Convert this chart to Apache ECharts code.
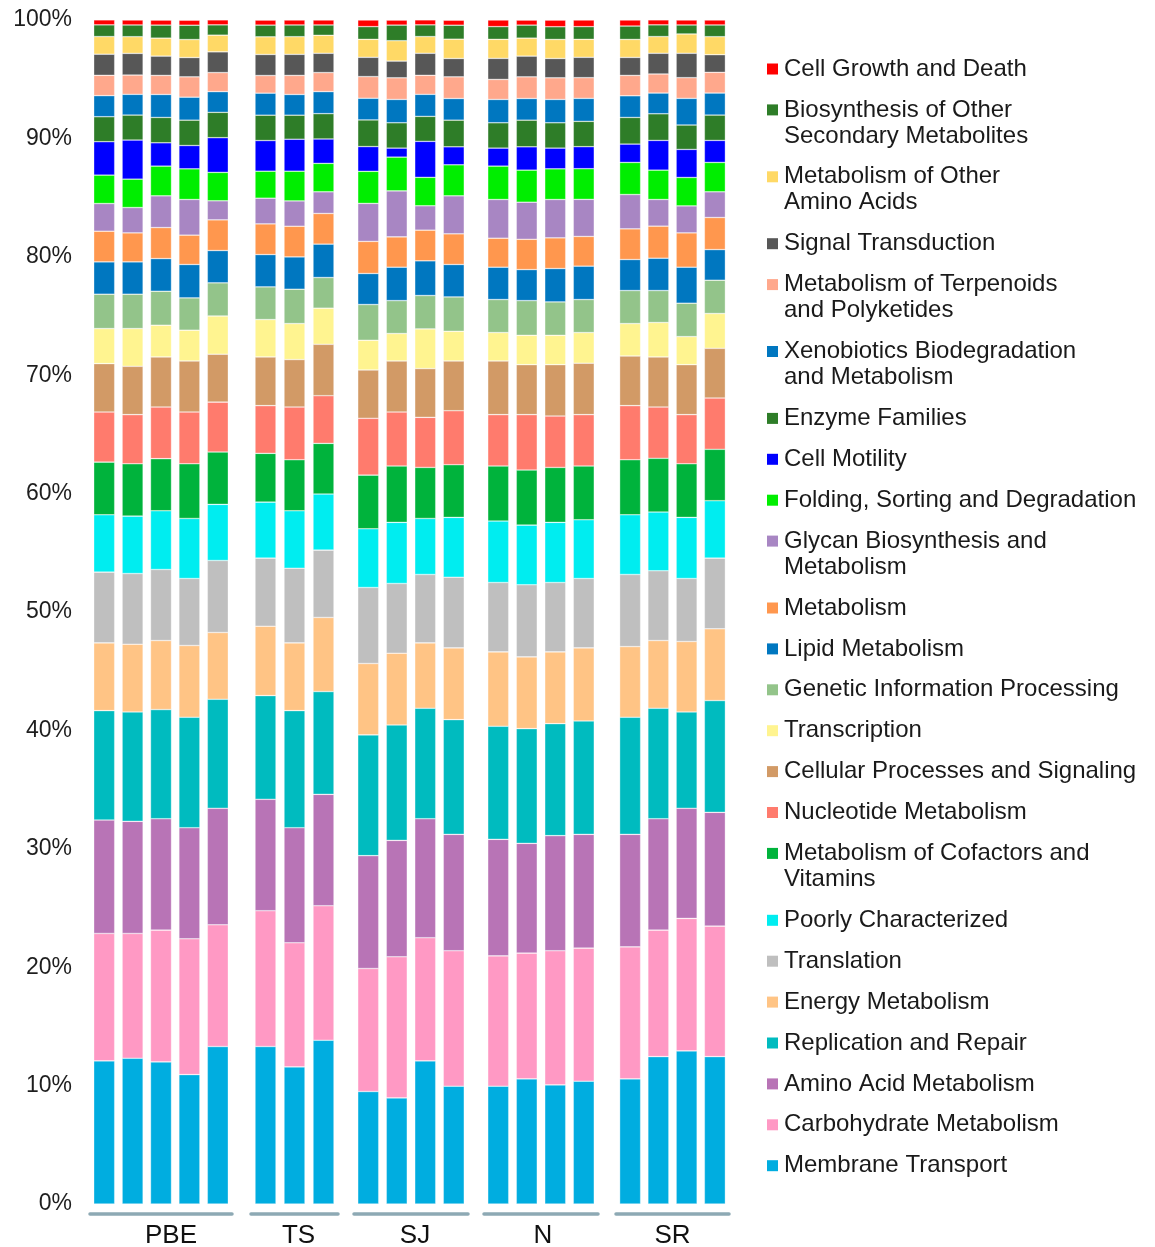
<!DOCTYPE html>
<html>
<head>
<meta charset="utf-8">
<script src="https://cdn.jsdelivr.net/npm/echarts@6/dist/echarts.min.js"></script>
<style>
  html, body { margin: 0; padding: 0; background: #fff; }
  #chart { width: 1155px; height: 1247px; }
</style>
</head>
<body>
<div id="chart"></div>
<script>
// sample groups, left to right
const groups = ["PBE", "TS", "SJ", "N", "SR"];
const groupSizes = [5, 3, 4, 4, 4];
const sampleLabels = [
  "PBE1", "PBE2", "PBE3", "PBE4", "PBE5",
  "TS1", "TS2", "TS3",
  "SJ1", "SJ2", "SJ3", "SJ4",
  "N1", "N2", "N3", "N4",
  "SR1", "SR2", "SR3", "SR4",
];

// KEGG categories, stacked bottom -> top
const categories = [
  "Membrane Transport",
  "Carbohydrate Metabolism",
  "Amino Acid Metabolism",
  "Replication and Repair",
  "Energy Metabolism",
  "Translation",
  "Poorly Characterized",
  "Metabolism of Cofactors and\nVitamins",
  "Nucleotide Metabolism",
  "Cellular Processes and Signaling",
  "Transcription",
  "Genetic Information Processing",
  "Lipid Metabolism",
  "Metabolism",
  "Glycan Biosynthesis and\nMetabolism",
  "Folding, Sorting and Degradation",
  "Cell Motility",
  "Enzyme Families",
  "Xenobiotics Biodegradation\nand Metabolism",
  "Metabolism of Terpenoids\nand Polyketides",
  "Signal Transduction",
  "Metabolism of Other\nAmino Acids",
  "Biosynthesis of Other\nSecondary Metabolites",
  "Cell Growth and Death",
];

// relative abundance (%) per sample
const membraneTransport = [12.09, 12.31, 12.00, 10.93, 13.30, 13.30, 11.58, 13.83, 9.50, 8.96, 12.09, 9.95, 9.95, 10.57, 10.06, 10.37, 10.57, 12.45, 12.93, 12.45];
const carbohydrateMetabolism = [10.76, 10.54, 11.13, 11.47, 10.28, 11.47, 10.48, 11.36, 10.39, 11.92, 10.40, 11.44, 11.01, 10.62, 11.33, 11.24, 11.15, 10.68, 11.19, 11.02];
const aminoAcidMetabolism = [9.58, 9.47, 9.41, 9.38, 9.84, 9.41, 9.72, 9.41, 9.53, 9.83, 10.05, 9.83, 9.84, 9.27, 9.72, 9.61, 9.50, 9.41, 9.30, 9.61];
const replicationRepair = [9.24, 9.24, 9.22, 9.33, 9.21, 8.76, 9.89, 8.68, 10.20, 9.75, 9.33, 9.69, 9.55, 9.69, 9.46, 9.58, 9.89, 9.33, 8.14, 9.44];
const energyMetabolism = [5.72, 5.72, 5.83, 6.06, 5.64, 5.86, 5.72, 6.26, 6.03, 6.06, 5.52, 6.06, 6.28, 6.06, 6.06, 6.17, 5.97, 5.72, 5.95, 6.06];
const translation = [5.98, 5.97, 6.00, 5.66, 6.08, 5.75, 6.31, 5.69, 6.42, 5.89, 5.78, 5.97, 5.86, 6.09, 5.86, 5.86, 6.09, 5.89, 5.32, 5.97];
const poorlyCharacterized = [4.84, 4.85, 4.96, 5.07, 4.74, 4.73, 4.85, 4.73, 4.96, 5.16, 4.73, 5.05, 5.19, 5.04, 5.08, 4.96, 5.04, 4.96, 5.16, 4.85];
const cofactorsVitamins = [4.45, 4.42, 4.40, 4.62, 4.42, 4.12, 4.31, 4.28, 4.53, 4.76, 4.31, 4.45, 4.65, 4.65, 4.64, 4.54, 4.65, 4.54, 4.53, 4.34];
const nucleotideMetabolism = [4.23, 4.15, 4.36, 4.37, 4.22, 4.03, 4.45, 4.03, 4.80, 4.56, 4.23, 4.56, 4.34, 4.68, 4.34, 4.34, 4.57, 4.33, 4.15, 4.33];
const cellularProcesses = [4.09, 4.08, 4.23, 4.31, 4.04, 4.11, 4.01, 4.34, 4.08, 4.31, 4.12, 4.20, 4.53, 4.22, 4.34, 4.34, 4.19, 4.23, 4.22, 4.20];
const transcription = [2.96, 3.19, 2.68, 2.60, 3.23, 3.16, 3.04, 3.05, 2.51, 2.32, 3.35, 2.51, 2.40, 2.48, 2.48, 2.59, 2.74, 2.91, 2.37, 2.94];
const geneticInformation = [2.90, 2.90, 2.87, 2.73, 2.80, 2.76, 2.90, 2.59, 3.02, 2.78, 2.82, 2.90, 2.79, 2.93, 2.82, 2.79, 2.79, 2.70, 2.82, 2.81];
const lipidMetabolism = [2.73, 2.73, 2.76, 2.82, 2.73, 2.73, 2.73, 2.82, 2.62, 2.82, 2.93, 2.74, 2.73, 2.62, 2.82, 2.82, 2.62, 2.73, 3.04, 2.59];
const metabolism = [2.59, 2.45, 2.62, 2.48, 2.59, 2.59, 2.59, 2.59, 2.71, 2.56, 2.59, 2.59, 2.45, 2.56, 2.59, 2.51, 2.59, 2.71, 2.90, 2.71];
const glycanBiosynthesis = [2.34, 2.14, 2.68, 3.01, 1.61, 2.17, 2.14, 1.83, 3.21, 3.89, 2.06, 3.21, 3.27, 3.13, 3.24, 3.13, 2.90, 2.25, 2.28, 2.17];
const foldingSorting = [2.40, 2.40, 2.51, 2.59, 2.40, 2.28, 2.51, 2.40, 2.71, 2.85, 2.40, 2.62, 2.82, 2.71, 2.59, 2.59, 2.71, 2.48, 2.40, 2.48];
const cellMotility = [2.82, 3.30, 1.97, 1.97, 2.93, 2.59, 2.70, 2.06, 2.09, 0.76, 3.04, 1.52, 1.52, 1.97, 1.75, 1.86, 1.55, 2.51, 2.37, 1.86];
const enzymeFamilies = [2.11, 2.11, 2.14, 2.14, 2.14, 2.14, 2.03, 2.14, 2.25, 2.14, 2.11, 2.25, 2.14, 2.25, 2.14, 2.14, 2.25, 2.25, 2.06, 2.14];
const xenobiotics = [1.78, 1.75, 1.94, 1.94, 1.75, 1.86, 1.75, 1.86, 1.83, 1.97, 1.86, 1.83, 1.97, 1.83, 1.97, 1.94, 1.83, 1.75, 2.25, 1.86];
const terpenoidsPolyketides = [1.72, 1.63, 1.61, 1.72, 1.61, 1.49, 1.61, 1.61, 1.83, 1.83, 1.61, 1.83, 1.69, 1.83, 1.83, 1.75, 1.72, 1.61, 1.75, 1.75];
const signalTransduction = [1.78, 1.83, 1.63, 1.63, 1.75, 1.78, 1.78, 1.63, 1.63, 1.41, 1.86, 1.55, 1.78, 1.75, 1.63, 1.72, 1.52, 1.75, 2.06, 1.49];
const otherAminoAcids = [1.49, 1.41, 1.52, 1.52, 1.41, 1.49, 1.49, 1.52, 1.52, 1.72, 1.41, 1.63, 1.61, 1.52, 1.61, 1.52, 1.52, 1.41, 1.63, 1.52];
const secondaryMetabolites = [0.99, 0.99, 1.10, 1.21, 0.87, 0.99, 0.99, 0.87, 1.07, 1.32, 0.99, 1.18, 1.07, 1.10, 1.07, 1.07, 1.13, 0.99, 0.76, 0.99];
const cellGrowthDeath = [0.42, 0.42, 0.42, 0.42, 0.42, 0.42, 0.42, 0.42, 0.56, 0.42, 0.42, 0.42, 0.56, 0.42, 0.56, 0.56, 0.51, 0.42, 0.42, 0.42];

const values = [
  membraneTransport, carbohydrateMetabolism, aminoAcidMetabolism, replicationRepair,
  energyMetabolism, translation, poorlyCharacterized, cofactorsVitamins,
  nucleotideMetabolism, cellularProcesses, transcription, geneticInformation,
  lipidMetabolism, metabolism, glycanBiosynthesis, foldingSorting,
  cellMotility, enzymeFamilies, xenobiotics, terpenoidsPolyketides,
  signalTransduction, otherAminoAcids, secondaryMetabolites, cellGrowthDeath,
];

const colors = [
  "#00ADE0", "#FF99C4", "#B874B6", "#00BBBF", "#FFC485", "#BFBFBF",
  "#00EDF0", "#00B33C", "#FF7B6D", "#D29A66", "#FFF490", "#93C48A",
  "#0077C0", "#FF974E", "#A886C3", "#00EE00", "#0000FF", "#2E7D28",
  "#0077C0", "#FFA88C", "#575757", "#FFD966", "#2E7D28", "#FF0000",
];

const FONT = '"Liberation Sans", Arial, Helvetica, sans-serif';

// one grid per sample group
const gridLayout = [
  { left: 90, width: 142, shift: 20 },
  { left: 251, width: 87, shift: 8 },
  { left: 354, width: 114, shift: 8 },
  { left: 484, width: 114, shift: 4 },
  { left: 616, width: 113, shift: 0 },
];

const grids = [];
const xAxes = [];
const yAxes = [];
const series = [];
let offset = 0;

groups.forEach((group, gi) => {
  const n = groupSizes[gi];
  const lay = gridLayout[gi];

  grids.push({
    left: lay.left,
    width: lay.width,
    top: 20,
    bottom: 43,
    containLabel: false,
    outerBoundsMode: "none",
  });

  xAxes.push({
    type: "category",
    gridIndex: gi,
    data: sampleLabels.slice(offset, offset + n),
    offset: 10,
    axisLine: { onZero: false, lineStyle: { color: "#8DA9B4", width: 3.5 } },
    axisTick: { show: false },
    axisLabel: { show: false },
    name: group,
    nameLocation: "middle",
    nameGap: 9,
    nameTextStyle: {
      fontSize: 26,
      color: "#111",
      fontFamily: FONT,
      padding: [0, 0, 0, lay.shift],
    },
  });

  yAxes.push({
    type: "value",
    gridIndex: gi,
    min: 0,
    max: 100,
    interval: 10,
    show: gi === 0,
    axisLine: { show: false },
    axisTick: { show: false },
    splitLine: { show: false },
    axisLabel: {
      formatter: "{value}%",
      fontSize: 23,
      color: "#1e1e1e",
      margin: 18,
      fontFamily: FONT,
    },
  });

  categories.forEach((name, ci) => {
    series.push({
      type: "bar",
      name: name,
      xAxisIndex: gi,
      yAxisIndex: gi,
      stack: "grp" + gi,
      barWidth: 21,
      data: values[ci].slice(offset, offset + n),
      itemStyle: {
        color: colors[ci],
        borderColor: "rgba(255,255,255,0.55)",
        borderWidth: 0.6,
      },
      emphasis: { disabled: true },
    });
  });

  offset += n;
});

// legend with the colour square on the first text line
const rich = {
  g: { width: 6 },
  g2: { width: 17 },
  t: { fontSize: 24, lineHeight: 26, color: "#1a1a1a", fontFamily: FONT },
};
colors.forEach((c, i) => {
  rich["m" + i] = { width: 11, height: 11, backgroundColor: c };
});

const legendFormatter = (name) => {
  const idx = categories.indexOf(name);
  const lines = name.split("\n");
  let s = "{m" + idx + "|}{g|}{t|" + lines[0] + "}";
  lines.slice(1).forEach((l) => {
    s += "\n{g2|}{t|" + l + "}";
  });
  return s;
};

const option = {
  animation: false,
  backgroundColor: "#fff",
  grid: grids,
  xAxis: xAxes,
  yAxis: yAxes,
  legend: {
    orient: "vertical",
    left: 761,
    top: 56,
    padding: 0,
    itemGap: 14.9,
    itemWidth: 0,
    itemHeight: 0,
    itemStyle: { opacity: 0 },
    selectedMode: false,
    data: categories.slice().reverse(),
    formatter: legendFormatter,
    textStyle: { fontSize: 24, lineHeight: 26, fontFamily: FONT, rich: rich },
  },
  series: series,
};

const chart = echarts.init(document.getElementById("chart"));
chart.setOption(option);
</script>
</body>
</html>
